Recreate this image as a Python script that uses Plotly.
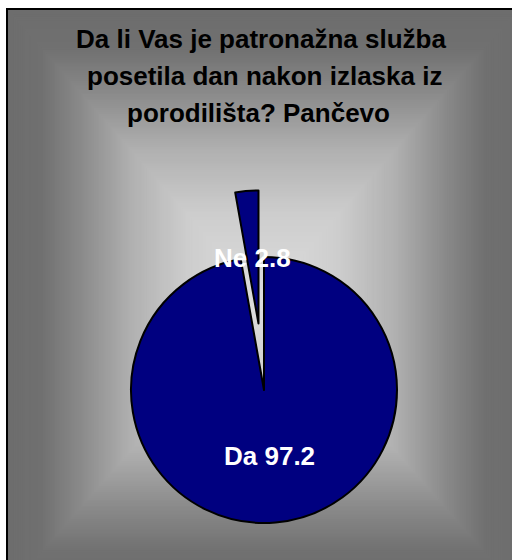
import numpy as np
import plotly.graph_objects as go

# ---- data ----
labels = ["Da", "Ne"]
values = [97.2, 2.8]
title_lines = [
    "Da li Vas je patronažna služba",
    "posetila dan nakon izlaska iz",
    "porodilišta? Pančevo",
]

W, H = 512, 560


def px(x):
    return x / W


def py(y):
    return 1 - y / H


NAVY = "#000080"
CLEAR = "rgba(0,0,0,0)"
FONT = "Liberation Sans, Arial, sans-serif"
EDGE = "rgb(109,109,109)"

fig = go.Figure()

# main pie: the "Da" slice, with the pulled-out "Ne" slice left empty
fig.add_trace(go.Pie(
    labels=labels, values=values, sort=False, direction="clockwise", rotation=0,
    marker=dict(colors=[NAVY, CLEAR], line=dict(color=["black", CLEAR], width=[2, 0])),
    textinfo="none", showlegend=False, hoverinfo="label+value",
    domain=dict(x=[px(131), px(397)], y=[py(523), py(257)]),
))
# exploded "Ne" slice
fig.add_trace(go.Pie(
    labels=labels, values=values, sort=False, direction="clockwise", rotation=0,
    marker=dict(colors=[CLEAR, NAVY], line=dict(color=[CLEAR, "black"], width=[0, 2])),
    textinfo="none", showlegend=False, hoverinfo="label+value",
    domain=dict(x=[px(125.5), px(391.5)], y=[py(456.5), py(190.5)]),
))

# ---- background: rectangular path gradient via nested rectangles ----
shapes = []
cx, cy = 263, 300
hw, hh = 256, 291
stop_t = [0.0, 0.3, 0.52, 0.715, 0.87, 1.0]
stop_g = [222, 205, 176, 138, 112, 109]
N = 150
for i in range(N):
    t = 1 - i / N
    g = int(round(np.interp(t, stop_t, stop_g)))
    shapes.append(dict(
        type="rect", xref="paper", yref="paper", layer="below",
        x0=px(cx - hw * t), x1=px(cx + hw * t), y0=py(cy + hh * t), y1=py(cy - hh * t),
        fillcolor=f"rgb({g},{g},{g})", line=dict(width=0),
    ))
# white strips outside the frame (left and top)
shapes.append(dict(type="rect", xref="paper", yref="paper", layer="below",
                   x0=0, x1=px(6), y0=0, y1=1, fillcolor="white", line=dict(width=0)))
shapes.append(dict(type="rect", xref="paper", yref="paper", layer="below",
                   x0=0, x1=1, y0=py(8), y1=1, fillcolor="white", line=dict(width=0)))
# frame: left and top border as thin filled bars
shapes.append(dict(type="rect", xref="paper", yref="paper", layer="below",
                   x0=px(6), x1=px(8), y0=0, y1=py(8),
                   fillcolor="black", line=dict(width=0)))
shapes.append(dict(type="rect", xref="paper", yref="paper", layer="below",
                   x0=px(6), x1=1, y0=py(10), y1=py(8),
                   fillcolor="black", line=dict(width=0)))

annotations = []
title_y = [39, 76, 113]
title_x = [261, 264, 258]
for txt, xx, yy in zip(title_lines, title_x, title_y):
    annotations.append(dict(
        text=txt, x=px(xx), y=py(yy), xref="paper", yref="paper",
        xanchor="center", yanchor="middle", showarrow=False,
        font=dict(family=FONT, size=26, color="black", weight="bold"),
    ))

label_pos = {"Ne": (252.5, 257.5), "Da": (269.5, 455.7)}
for lab, val in zip(labels, values):
    xx, yy = label_pos[lab]
    annotations.append(dict(
        text=f"{lab} {val}", x=px(xx), y=py(yy), xref="paper", yref="paper",
        xanchor="center", yanchor="middle", showarrow=False,
        font=dict(family=FONT, size=26, color="white", weight="bold"),
    ))

fig.update_layout(
    width=W, height=H, margin=dict(l=0, r=0, t=0, b=0, pad=0),
    paper_bgcolor=EDGE, plot_bgcolor=EDGE, showlegend=False,
    shapes=shapes, annotations=annotations,
)

fig.write_html("out.html", config={"displayModeBar": False},
               post_script="document.body.style.margin='0';")
